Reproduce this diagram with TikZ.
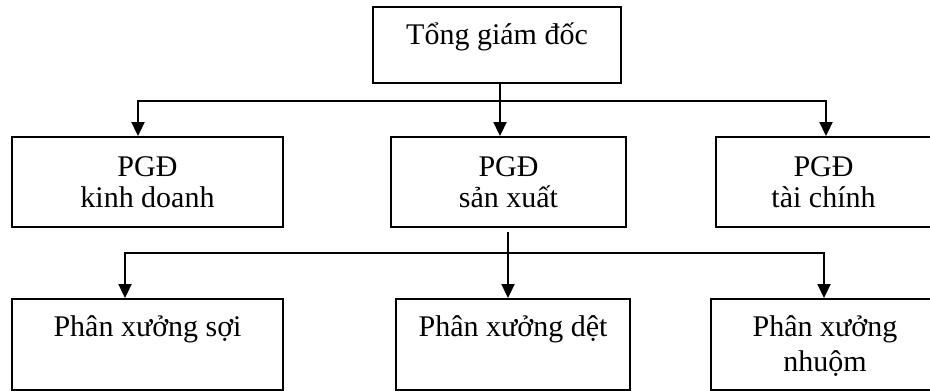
\documentclass[tikz,border=0pt]{standalone}
\usepackage{fontspec}
\setmainfont{Liberation Serif}
\usetikzlibrary{arrows.meta}
\begin{document}
\begin{tikzpicture}[x=0.75pt,y=-0.75pt,
  box/.style={draw, line width=1.4pt, inner sep=0pt, minimum height=67.5pt},
  lbltop/.style={anchor=base, yshift=-28.5pt, inner sep=0pt, align=center,
    font=\fontsize{22.5pt}{26.25pt}\selectfont},
  lblmid/.style={anchor=base, yshift=-53.25pt, inner sep=0pt, align=center,
    font=\fontsize{22.5pt}{23.25pt}\selectfont},
  lblbot/.style={anchor=base, yshift=-28.5pt, inner sep=0pt, align=center,
    font=\fontsize{22.5pt}{26.25pt}\selectfont},
  lblbottwo/.style={anchor=base, yshift=-54.75pt, inner sep=0pt, align=center,
    font=\fontsize{22.5pt}{26.25pt}\selectfont},
  conn/.style={line width=1.4pt, -{Triangle[length=10.5pt,width=9.75pt]}},
  conn2/.style={line width=1.4pt, line join=miter,
    {Triangle[length=10.5pt,width=9.75pt]}-{Triangle[length=10.5pt,width=9.75pt]}},
  bus/.style={line width=1.4pt}]
\useasboundingbox (0,0) rectangle (930,391);
\clip (0,0) rectangle (930,391);
% boxes
\node[box, minimum width=186pt, minimum height=57pt,
  label={[lbltop]north:Tổng giám đốc}] (top) at (497,45) {};
\node[box, minimum width=203.25pt,
  label={[lblmid]north:PGĐ\\kinh doanh}] (kd) at (147.5,182) {};
\node[box, minimum width=176.25pt,
  label={[lblmid]north:PGĐ\\sản xuất}] (sx) at (508.5,182) {};
\node[box, minimum width=161.25pt,
  label={[lblmid]north:PGĐ\\tài chính}] (tc) at (823.5,182) {};
\node[box, minimum width=203.25pt, minimum height=68.25pt,
  label={[lblbot]north:Phân xưởng sợi}] (soi) at (147.5,344.5) {};
\node[box, minimum width=175.5pt, minimum height=68.25pt,
  label={[lblbot]north:Phân xưởng dệt}] (det) at (513,344.5) {};
\node[box, minimum width=171pt, minimum height=68.25pt,
  label={[lblbottwo]north:Phân xưởng\\nhuộm}] (nh) at (825,344.5) {};
% bus 1
\coordinate (b1L) at (138,101);
\coordinate (b1M) at (500,101);
\coordinate (b1R) at (826,101);
\draw[conn] (top.south -| b1M) -- (b1M |- sx.north);
\draw[conn2] (b1L |- kd.north) -- (b1L) -- (b1R) -- (b1R |- tc.north);
% bus 2
\coordinate (b2L) at (125,253);
\coordinate (b2M) at (508,253);
\coordinate (b2R) at (824,253);
\draw[conn] ([yshift=-3.4pt]sx.south -| b2M) -- (b2M |- det.north);
\draw[conn2] (b2L |- soi.north) -- (b2L) -- (b2R) -- (b2R |- nh.north);
\end{tikzpicture}
\end{document}
